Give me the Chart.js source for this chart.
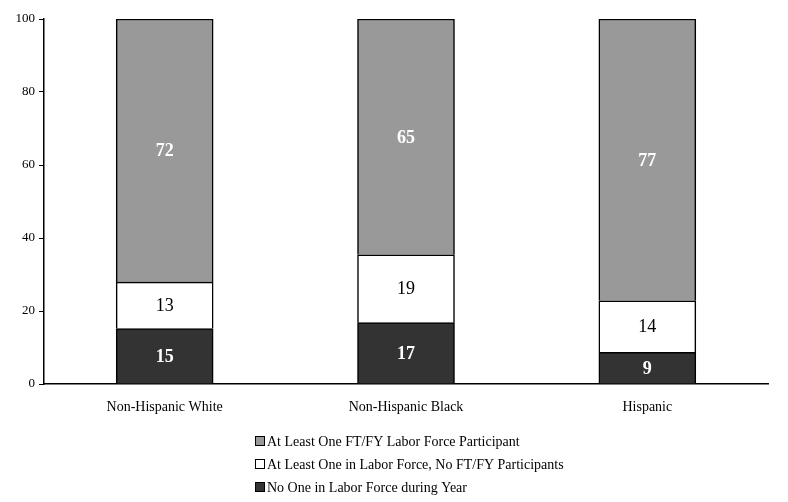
<!DOCTYPE html>
<html>
<head>
<meta charset="utf-8">
<script src="https://cdn.jsdelivr.net/npm/chart.js@4"></script>
<style>
html,body{margin:0;padding:0;background:#fff;}
#wrap{width:788px;height:502px;position:relative;}
</style>
</head>
<body>
<div id="wrap"><canvas id="grafico" width="788" height="502"></canvas></div>
<script>
const categorias=['Non-Hispanic White','Non-Hispanic Black','Hispanic'];
const nenhum=[15.2,16.8,8.7];
const semFTFY=[12.7,18.6,14.1];
const comFTFY=[72.1,64.6,77.2];
const rotulosNenhum=['15','17','9'];
const rotulosSemFTFY=['13','19','14'];
const rotulosComFTFY=['72','65','77'];
const yTicks=[0,20,40,60,80,100];

const serif='"Liberation Serif","Times New Roman",serif';

// rotulos dentro das barras
const rotulosPlugin={
  id:'rotulos',
  afterDatasetsDraw(chart){
    const ctx=chart.ctx;
    ctx.save();
    ctx.textAlign='center';ctx.textBaseline='middle';
    chart.data.datasets.forEach(function(ds,i){
      const meta=chart.getDatasetMeta(i);
      meta.data.forEach(function(bar,j){
        const top=Math.max(bar.y,chart.chartArea.top);
        const meio=(top+bar.base)/2;
        ctx.font=(ds.rotuloBold?'bold ':'')+'18px '+serif;
        ctx.fillStyle=ds.rotuloCor;
        ctx.fillText(ds.rotulos[j],bar.x,meio+1);
      });
    });
    ctx.restore();
  }
};

// legenda vertical embaixo
const legendaPlugin={
  id:'legendaVertical',
  afterDraw(chart){
    const ctx=chart.ctx;
    const itens=chart.data.datasets.slice().reverse();
    ctx.save();
    ctx.font='14px '+serif;
    ctx.textBaseline='middle';ctx.textAlign='left';
    itens.forEach(function(ds,i){
      const y=441+i*23;
      ctx.fillStyle=ds.backgroundColor;
      ctx.fillRect(255,y-5,10,10);
      ctx.strokeStyle='#000';ctx.lineWidth=1;
      ctx.strokeRect(255.5,y-4.5,9,9);
      ctx.fillStyle='#000';
      ctx.fillText(ds.label,267,y+1);
    });
    ctx.restore();
  }
};

const ctx=document.getElementById('grafico').getContext('2d');
const grafico=new Chart(ctx,{
  type:'bar',
  data:{labels:categorias,datasets:[
    {label:'No One in Labor Force during Year',data:nenhum,backgroundColor:'#333333',borderColor:'#000',borderWidth:1.5,rotulos:rotulosNenhum,rotuloCor:'#fff',rotuloBold:true},
    {label:'At Least One in Labor Force, No FT/FY Participants',data:semFTFY,backgroundColor:'#ffffff',borderColor:'#000',borderWidth:1.5,rotulos:rotulosSemFTFY,rotuloCor:'#000',rotuloBold:false},
    {label:'At Least One FT/FY Labor Force Participant',data:comFTFY,backgroundColor:'#999999',borderColor:'#000',borderWidth:1.5,rotulos:rotulosComFTFY,rotuloCor:'#fff',rotuloBold:true}
  ]},
  options:{
    responsive:false,animation:false,
    layout:{padding:{top:19,right:20,left:0,bottom:0}},
    barThickness:97,
    plugins:{legend:{display:false},tooltip:{enabled:false}},
    scales:{
      x:{stacked:true,
        grid:{display:false},
        border:{display:true,color:'#000',width:1.5},
        ticks:{color:'#000',padding:7,font:{family:serif,size:14}},
        afterFit:function(s){s.height=118;}
      },
      y:{stacked:true,min:0,max:100,
        afterBuildTicks:function(s){s.ticks=yTicks.map(function(v){return {value:v};});},
        grid:{display:true,drawOnChartArea:false,drawTicks:true,tickLength:5,color:'#000',lineWidth:1},
        border:{display:true,color:'#000',width:1.5},
        ticks:{color:'#000',padding:4,font:{family:serif,size:13}},
        afterFit:function(s){s.width=44;}
      }
    }
  },
  plugins:[rotulosPlugin,legendaPlugin]
});
</script>
</body>
</html>
